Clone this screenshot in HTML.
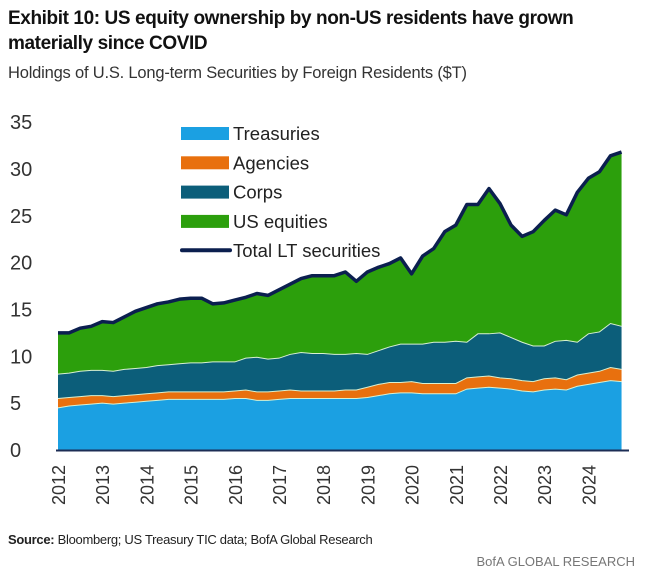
<!DOCTYPE html>
<html><head><meta charset="utf-8"><style>
body{margin:0;background:#fff;width:665px;height:577px;overflow:hidden;font-family:"Liberation Sans",sans-serif}
.t{position:absolute;white-space:nowrap}
</style></head><body>
<div class="t" style="left:8px;top:6px;font-size:19px;font-weight:bold;line-height:25px;color:#111;letter-spacing:-0.4px">Exhibit 10: US equity ownership by non-US residents have grown<br>materially since COVID</div>
<div class="t" style="left:8px;top:64px;font-size:16.5px;color:#333;letter-spacing:-0.2px">Holdings of U.S. Long-term Securities by Foreign Residents ($T)</div>
<svg id="c" width="665" height="577" style="position:absolute;left:0;top:0"></svg>
<div class="t" style="left:8px;top:532px;font-size:13px;color:#222;letter-spacing:-0.3px"><b>Source:</b> Bloomberg; US Treasury TIC data; BofA Global Research</div>
<div class="t" style="right:30px;top:554px;font-size:13px;color:#777">BofA GLOBAL RESEARCH</div>
<script>
const years=["2012","2013","2014","2015","2016","2017","2018","2019","2020","2021","2022","2023","2024"];
const yTicks=[0,5,10,15,20,25,30,35];
// stacked tops (quarterly 2012Q1..2024Q4)
const treasuries=[4.5,4.7,4.8,4.9,5.0,4.9,5.0,5.1,5.2,5.3,5.4,5.4,5.4,5.4,5.4,5.4,5.5,5.5,5.3,5.3,5.4,5.5,5.5,5.5,5.5,5.5,5.5,5.5,5.6,5.8,6.0,6.1,6.1,6.0,6.0,6.0,6.0,6.5,6.6,6.7,6.6,6.5,6.3,6.2,6.4,6.5,6.4,6.8,7.0,7.2,7.4,7.3];
const agenciesTop=[5.5,5.6,5.7,5.8,5.8,5.7,5.8,5.9,6.0,6.1,6.2,6.2,6.2,6.2,6.2,6.2,6.3,6.4,6.2,6.2,6.3,6.4,6.3,6.3,6.3,6.3,6.4,6.4,6.7,7.0,7.2,7.2,7.3,7.1,7.1,7.1,7.1,7.7,7.8,7.9,7.7,7.6,7.4,7.3,7.6,7.7,7.5,8.0,8.2,8.4,8.8,8.6];
const corpsTop=[8.1,8.2,8.4,8.5,8.5,8.4,8.6,8.7,8.8,9.0,9.1,9.2,9.3,9.3,9.4,9.4,9.4,9.8,9.9,9.7,9.8,10.2,10.4,10.3,10.3,10.2,10.2,10.3,10.2,10.6,11.0,11.3,11.3,11.3,11.5,11.5,11.6,11.5,12.4,12.4,12.5,12.0,11.5,11.1,11.1,11.6,11.7,11.5,12.4,12.6,13.5,13.2];
const total=[12.5,12.5,13.0,13.2,13.7,13.6,14.2,14.8,15.2,15.6,15.8,16.1,16.2,16.2,15.6,15.7,16.0,16.3,16.7,16.5,17.1,17.7,18.3,18.6,18.6,18.6,19.0,18.0,19.0,19.5,19.9,20.5,18.8,20.7,21.5,23.3,24.0,26.2,26.2,27.9,26.3,24.0,22.8,23.3,24.5,25.6,25.1,27.5,29.0,29.7,31.4,31.8];
const svg=document.getElementById('c');const NS='http://www.w3.org/2000/svg';
const X=i=>58+i*44.2/4, Y=v=>450-v*9.37;
function mk(t,a){const e=document.createElementNS(NS,t);for(const k in a)e.setAttribute(k,a[k]);svg.appendChild(e);return e;}
function area(top,bot,fill,name){let d='M'+top.map((v,i)=>X(i)+','+Y(v)).join('L');for(let i=top.length-1;i>=0;i--)d+='L'+X(i)+','+Y(bot?bot[i]:0);
const p=mk('path',{d:d+'Z',fill:fill});

}
area(total,corpsTop,'#2c9f0c','us-equities-area');
area(corpsTop,agenciesTop,'#0c5e7a','corps-area');
area(agenciesTop,treasuries,'#e8700e','agencies-area');
area(treasuries,null,'#1ba0e2','treasuries-area');
[treasuries,agenciesTop,corpsTop].forEach(s=>{mk('polyline',{points:s.map((v,i)=>X(i)+','+Y(v)).join(' '),fill:'none',stroke:'#d8f0d0','stroke-width':1});});
const tl=mk('polyline',{points:total.map((v,i)=>X(i)+','+Y(v)).join(' '),fill:'none',stroke:'#0b1f4f','stroke-width':3.5,'stroke-linejoin':'round'});


const ax=mk('line',{x1:56,x2:629,y1:450.5,y2:450.5,stroke:'#1c2d55','stroke-width':2});


yTicks.forEach(v=>{const t=mk('text',{x:10,y:Y(v)+7,'font-size':20,fill:'#333','font-family':'Liberation Sans'});t.textContent=v;

});
years.forEach((y,i)=>{const x=X(i*4)+7;const t=mk('text',{x:0,y:0,transform:`translate(${x},${505}) rotate(-90)`,'font-size':18,fill:'#333','font-family':'Liberation Sans'});t.textContent=y;

});
const leg=[['Treasuries','#1ba0e2'],['Agencies','#e8700e'],['Corps','#0c5e7a'],['US equities','#2c9f0c'],['Total LT securities','#0b1f4f']];
leg.forEach((l,i)=>{const y=133+i*29.3;
const s=i<4?mk('rect',{x:181,y:y-6,width:48,height:13,fill:l[1]}):mk('line',{x1:182,x2:230,y1:y,y2:y,stroke:l[1],'stroke-width':4,'stroke-linecap':'round'});


const t=mk('text',{x:233,y:y+7,'font-size':18.5,fill:'#222','font-family':'Liberation Sans'});t.textContent=l[0];

});
</script>
</body></html>
